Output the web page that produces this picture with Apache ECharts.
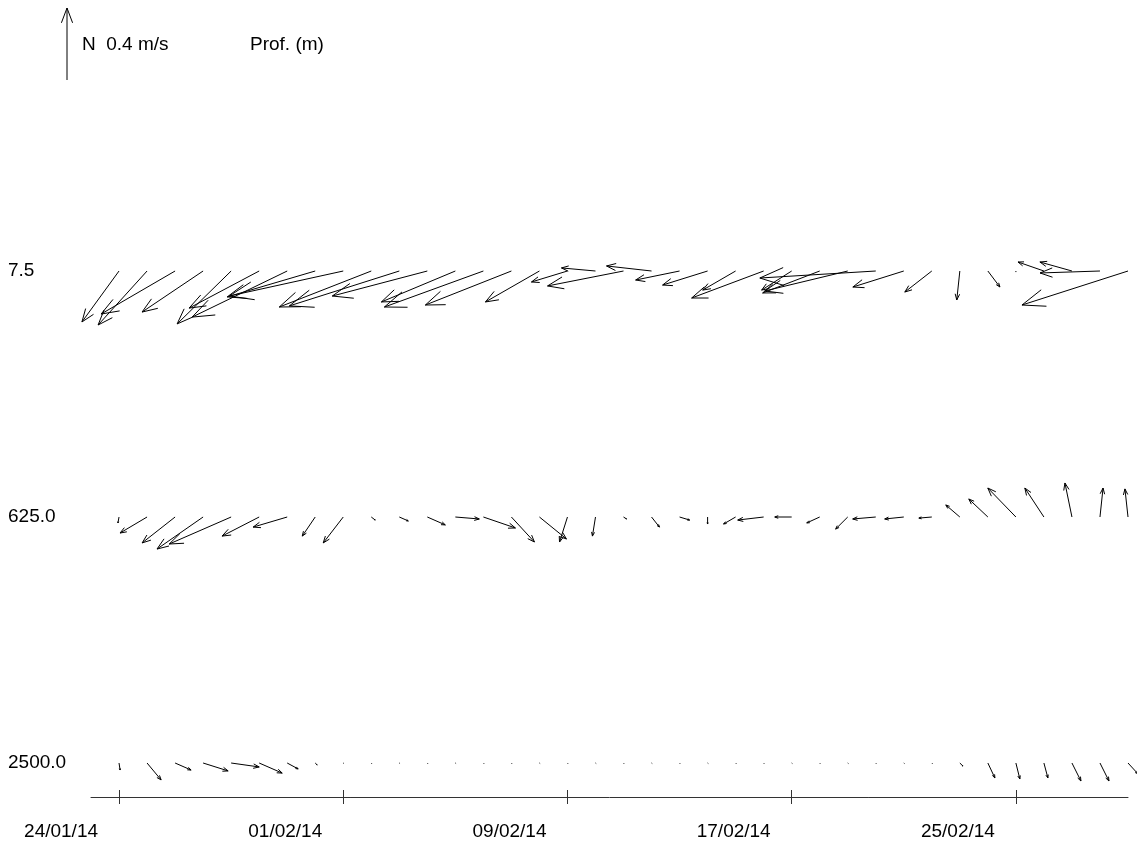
<!DOCTYPE html>
<html lang="fr">
<head>
    <meta charset="UTF-8">
    <title>Courants - Prof. (m)</title>
    <style type="text/css">
        *{
            margin: 0;
            padding: 0;
        }
        body{
            background: #fff;
        }
        #main{
            width: 1137px;
            height: 841px;
        }
    </style>
</head>
<body>
    <div id="main"></div>
    <script src="https://cdn.jsdelivr.net/npm/echarts@6/dist/echarts.min.js"></script>
    <script type="text/javascript">
        // profondeurs (bas -> haut)
        var depths = ['2500.0', '625.0', '7.5'];
        // graduations de l'axe des dates
        var tickDates = [Date.UTC(2014, 0, 24), Date.UTC(2014, 1, 1), Date.UTC(2014, 1, 9),
            Date.UTC(2014, 1, 17), Date.UTC(2014, 1, 25)];
        var axisStart = Date.UTC(2014, 0, 23);
        var axisEnd = Date.UTC(2014, 2, 1);

        // une mesure par jour, du 24/01/14 au 01/03/14
        var days = [];
        for (var d = 0; d < 37; d++) {
            days.push(Date.UTC(2014, 0, 24 + d));
        }

        // composantes est (u) et nord (v), m/s
        var u7 = [-0.206, -0.272, -0.411, -0.339, -0.300, -0.389, -0.528, -0.489, -0.633, -0.511,
            -0.611, -0.528, -0.411, -0.550, -0.478, -0.300, -0.200, -0.189, -0.422, -0.250,
            -0.244, -0.250, -0.183, -0.400, -0.167, -0.317, -0.461, -0.644, -0.283, -0.150,
            -0.017, 0.067, 0.000, -0.144, -0.178, -0.333, -0.589];
        var v7 = [-0.283, -0.300, -0.239, -0.228, -0.294, -0.206, -0.256, -0.144, -0.139, -0.200,
            -0.194, -0.139, -0.172, -0.200, -0.189, -0.172, -0.061, 0.017, -0.083, 0.028,
            -0.050, -0.078, -0.106, -0.150, -0.106, -0.122, -0.111, -0.039, -0.089, -0.117,
            -0.161, -0.089, -0.006, 0.050, 0.050, -0.011, -0.189];

        var u625 = [-0.006, -0.150, -0.183, -0.256, -0.344, -0.206, -0.189, -0.072, -0.111, 0.022,
            0.050, 0.100, 0.133, 0.178, 0.128, 0.150, -0.044, -0.017, 0.017, 0.044,
            0.056, 0.000, -0.067, -0.144, -0.094, -0.072, -0.067, -0.128, -0.106, -0.072,
            -0.078, -0.106, -0.156, -0.106, -0.039, 0.017, -0.017];
        var v625 = [-0.033, -0.089, -0.144, -0.178, -0.150, -0.106, -0.056, -0.106, -0.144, -0.017,
            -0.022, -0.044, -0.011, -0.061, -0.139, -0.122, -0.139, -0.106, -0.011, -0.056,
            -0.017, -0.039, -0.039, -0.017, 0.000, -0.033, -0.067, -0.011, -0.011, -0.006,
            0.067, 0.100, 0.161, 0.161, 0.189, 0.161, 0.156];

        var u2500 = [0.006, 0.078, 0.089, 0.139, 0.156, 0.128, 0.061, 0.011, 0.004, 0.003,
            0.004, 0.003, 0.004, 0.004, 0.003, 0.004, 0.003, 0.004, 0.003, 0.004,
            0.003, 0.004, 0.004, 0.003, 0.004, 0.003, 0.004, 0.003, 0.004, 0.004,
            0.017, 0.039, 0.022, 0.022, 0.050, 0.050, 0.056];
        var v2500 = [-0.039, -0.094, -0.039, -0.044, -0.022, -0.056, -0.033, -0.011, -0.003, -0.004,
            -0.003, -0.004, -0.003, -0.004, -0.004, -0.003, -0.004, -0.003, -0.004, -0.003,
            -0.004, -0.003, -0.004, -0.004, -0.003, -0.004, -0.003, -0.004, -0.003, -0.004,
            -0.017, -0.083, -0.089, -0.083, -0.100, -0.100, -0.061];

        // echelle : fleche de 0.4 m/s = 72 px
        var refSpeed = 0.4;
        var refLength = 72;
        var pxPerMs = refLength / refSpeed;

        var font = 'Liberation Sans';
        var fontSize = 19;

        var rows = [[u2500, v2500], [u625, v625], [u7, v7]];
        var data = [];
        rows.forEach(function (r, k) {
            for (var i = 0; i < days.length; i++) {
                data.push([days[i], k, r[0][i], r[1][i]]);
            }
        });

        function pad(n) {
            return n < 10 ? '0' + n : '' + n;
        }

        // fleche ouverte, tete proportionnelle a la longueur
        function arrowShapes(x, y, dx, dy) {
            var len = Math.sqrt(dx * dx + dy * dy);
            var tx = x + dx, ty = y + dy;
            var out = [{
                type: 'line',
                shape: {x1: x, y1: y, x2: tx, y2: ty},
                style: {stroke: '#000', lineWidth: 1}
            }];
            if (len > 2) {
                var a = Math.atan2(dy, dx);
                var h = len * 0.22;
                var w = 0.36;
                out.push({
                    type: 'polyline',
                    shape: {points: [
                        [tx - h * Math.cos(a - w), ty - h * Math.sin(a - w)],
                        [tx, ty],
                        [tx - h * Math.cos(a + w), ty - h * Math.sin(a + w)]
                    ]},
                    style: {stroke: '#000', fill: null, lineWidth: 1}
                });
            }
            return out;
        }

        var myChart = echarts.init(document.getElementById('main'));

        function dateLabel(val) {
            var t = new Date(val);
            return pad(t.getUTCDate()) + '/' + pad(t.getUTCMonth() + 1) + '/' +
                pad(t.getUTCFullYear() % 100);
        }

        var option = {
            animation: false,
            backgroundColor: '#fff',
            grid: {
                left: 91,
                right: 9,
                top: 271,
                bottom: 78
            },
            xAxis: [{
                type: 'value',
                min: axisStart,
                max: axisEnd,
                offset: 34,
                position: 'bottom',
                splitLine: {show: false},
                axisLine: {show: true, onZero: false, lineStyle: {color: '#333', width: 1}},
                axisTick: {
                    show: true,
                    length: 7,
                    customValues: tickDates,
                    lineStyle: {color: '#333'}
                },
                axisLabel: {
                    customValues: tickDates,
                    margin: 25,
                    align: 'right',
                    padding: [0, 21, 0, 0],
                    color: '#000',
                    fontSize: fontSize,
                    fontFamily: font,
                    formatter: dateLabel
                }
            }, {
                type: 'value',
                min: axisStart,
                max: axisEnd,
                offset: 34,
                position: 'bottom',
                splitLine: {show: false},
                axisLine: {show: false, onZero: false},
                axisTick: {
                    show: true,
                    inside: true,
                    length: 7,
                    customValues: tickDates,
                    lineStyle: {color: '#333'}
                },
                axisLabel: {show: false}
            }],
            yAxis: {
                type: 'category',
                data: depths,
                boundaryGap: false,
                axisLine: {show: false},
                axisTick: {show: false},
                splitLine: {show: false},
                axisLabel: {
                    align: 'left',
                    margin: 83,
                    color: '#000',
                    fontSize: fontSize,
                    fontFamily: font
                }
            },
            graphic: {
                elements: [{
                    type: 'group',
                    children: arrowShapes(67, 80, 0, -refLength)
                }, {
                    type: 'text',
                    left: 82,
                    top: 35,
                    style: {
                        text: 'N  ' + refSpeed + ' m/s',
                        fill: '#000',
                        font: fontSize + 'px "' + font + '"'
                    }
                }, {
                    type: 'text',
                    left: 250,
                    top: 35,
                    style: {
                        text: 'Prof. (m)',
                        fill: '#000',
                        font: fontSize + 'px "' + font + '"'
                    }
                }]
            },
            series: [{
                type: 'custom',
                name: 'courant',
                clip: false,
                data: data,
                encode: {x: 0, y: 1},
                renderItem: function (params, api) {
                    var p = api.coord([api.value(0), api.value(1)]);
                    var dx = api.value(2) * pxPerMs;
                    var dy = -api.value(3) * pxPerMs;
                    return {
                        type: 'group',
                        children: arrowShapes(p[0], p[1], dx, dy)
                    };
                }
            }]
        };

        myChart.setOption(option);
    </script>
</body>
</html>
